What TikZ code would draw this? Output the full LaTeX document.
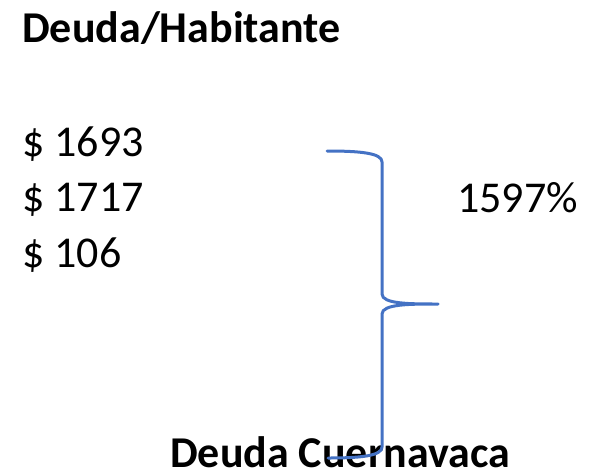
\documentclass[tikz,border=0pt]{standalone}
\usepackage{fontspec}
\setmainfont{Carlito}
\begin{document}
\begin{tikzpicture}[x=1pt,y=-1pt,
  lbl/.style={anchor=base west,inner sep=0pt,font=\fontsize{44}{50}\selectfont},
  blbl/.style={anchor=base west,inner sep=0pt,font=\fontsize{44}{50}\selectfont\bfseries},
  bracecol/.style={draw={rgb,255:red,68;green,114;blue,196},line width=3pt,line cap=round,line join=round}]
\useasboundingbox (0,0) rectangle (594,471);
\node[blbl] (title) at (22,42) {Deuda/Habitante};
\node[lbl] (a) at (22,156) {\$ 1693};
\node[lbl] (b) at (22,211) {\$ 1717};
\node[lbl] (c) at (22,267) {\$ 106};
\node[lbl] (p) at (457,212) {1597\%};
\node[blbl] (d) at (170,467) {Deuda Cuernavaca};
\draw[bracecol] (327,151) .. controls (360,151) and (382,153) .. (382,162)
  -- (382,294) .. controls (382,304) and (410,304) .. (438,304)
  .. controls (410,304) and (382,304) .. (382,314)
  -- (382,447) .. controls (382,456) and (360,458) .. (328,458);
\end{tikzpicture}
\end{document}
